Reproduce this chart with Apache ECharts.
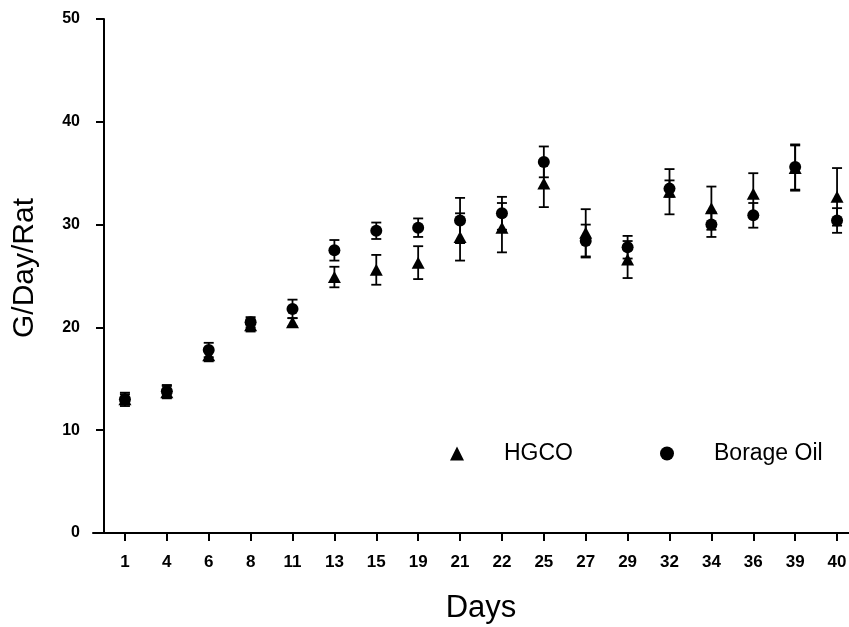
<!DOCTYPE html>
<html>
<head>
<meta charset="utf-8">
<script src="https://cdn.jsdelivr.net/npm/echarts@6/dist/echarts.min.js"></script>
<style>
html,body{margin:0;padding:0;background:#fff;}
#chart{width:849px;height:627px;}
</style>
</head>
<body>
<div id="chart"></div>
<script>
// ---- data ----
const days = ['1','4','6','8','11','13','15','19','21','22','25','27','29','32','34','36','39','40'];
const hgco =      [13.0, 13.7, 17.3, 20.2, 20.5, 24.9, 25.6, 26.3, 28.8, 29.7, 34.0, 29.2, 26.6, 33.2, 31.6, 33.0, 35.5, 32.7];
const hgcoErr =   [0.5,  0.6,  0.6,  0.6,  0.4,  1.0,  1.45, 1.6,  2.3,  2.4,  2.3,  2.3,  1.8,  2.2,  2.1,  2.0,  2.2,  2.8];
const borage =    [13.0, 13.8, 17.8, 20.5, 21.8, 27.5, 29.4, 29.7, 30.4, 31.1, 36.1, 28.4, 27.8, 33.5, 30.0, 30.9, 35.6, 30.4];
const borageErr = [0.65, 0.6,  0.7,  0.5,  0.9,  1.0,  0.8,  0.9,  2.2,  1.6,  1.5,  1.6,  1.1,  0.8,  1.2,  1.2,  2.2,  1.2];
const seriesNames = ['HGCO', 'Borage Oil'];
const yMin = 0, yMax = 50, yStep = 10;

// ---- build ----
const font = 'Liberation Sans, Arial, Helvetica, sans-serif';
function errData(mean, err) {
  return mean.map((m, i) => [i, m - err[i], m + err[i]]);
}
function errorSeries(mean, err) {
  return {
    type: 'custom',
    xAxisIndex: 0, yAxisIndex: 0,
    data: errData(mean, err),
    z: 1,
    silent: true,
    renderItem: function (params, api) {
      const x = api.value(0);
      const lo = api.coord([x, api.value(1)]);
      const hi = api.coord([x, api.value(2)]);
      const hw = 5;
      const st = {stroke: '#000', lineWidth: 1.8};
      return {
        type: 'group',
        children: [
          {type: 'line', shape: {x1: lo[0], y1: lo[1], x2: hi[0], y2: hi[1]}, style: st},
          {type: 'line', shape: {x1: lo[0] - hw, y1: lo[1], x2: lo[0] + hw, y2: lo[1]}, style: st},
          {type: 'line', shape: {x1: hi[0] - hw, y1: hi[1], x2: hi[0] + hw, y2: hi[1]}, style: st}
        ]
      };
    }
  };
}

const chart = echarts.init(document.getElementById('chart'), null, {renderer: 'canvas'});
chart.setOption({
  backgroundColor: '#fff',
  animation: false,
  grid: [
    {left: 104, top: 19, width: 754, height: 514, outerBoundsMode: 'none', containLabel: false},
    {left: 93, top: 19, width: 765, height: 514, outerBoundsMode: 'none', containLabel: false}
  ],
  legend: {
    left: 445, top: 437,
    itemWidth: 14, itemHeight: 14, itemGap: 87,
    itemStyle: {color: '#000', opacity: 1},
    textStyle: {fontFamily: font, fontSize: 23, color: '#000', padding: [0, 0, 0, 35]},
    data: [
      {name: seriesNames[0], icon: 'triangle'},
      {name: seriesNames[1], icon: 'circle'}
    ]
  },
  xAxis: [
    {
      type: 'category', gridIndex: 0, data: days, boundaryGap: true,
      name: 'Days', nameLocation: 'middle', nameGap: 60,
      nameTextStyle: {fontFamily: font, fontSize: 31, color: '#000'},
      axisLine: {show: false},
      axisTick: {show: true, alignWithLabel: true, length: 8, lineStyle: {color: '#000', width: 2}},
      axisLabel: {fontFamily: font, fontSize: 17, fontWeight: 'bold', color: '#000', margin: 21},
      splitLine: {show: false}
    },
    {
      type: 'value', gridIndex: 1, min: 0, max: 1,
      axisLine: {show: true, onZero: false, lineStyle: {color: '#000', width: 2}},
      axisTick: {show: false}, axisLabel: {show: false}, splitLine: {show: false}
    }
  ],
  yAxis: [
    {
      type: 'value', gridIndex: 0, min: yMin, max: yMax, interval: yStep,
      name: 'G/Day/Rat', nameLocation: 'middle', nameGap: 64,
      nameTextStyle: {fontFamily: font, fontSize: 30, color: '#000', padding: [0, 0, 0, 16]},
      axisLine: {show: true, lineStyle: {color: '#000', width: 2}},
      axisTick: {show: true, length: 8, lineStyle: {color: '#000', width: 2}},
      axisLabel: {fontFamily: font, fontSize: 16, fontWeight: 'bold', color: '#000', margin: 24},
      splitLine: {show: false}
    },
    {
      type: 'value', gridIndex: 1, min: 0, max: 1, show: false
    }
  ],
  series: [
    errorSeries(hgco, hgcoErr),
    errorSeries(borage, borageErr),
    {
      name: seriesNames[0], type: 'scatter', xAxisIndex: 0, yAxisIndex: 0,
      data: hgco, symbol: 'triangle', symbolSize: [13, 12],
      itemStyle: {color: '#000', opacity: 1}, z: 2
    },
    {
      name: seriesNames[1], type: 'scatter', xAxisIndex: 0, yAxisIndex: 0,
      data: borage, symbol: 'circle', symbolSize: 12,
      itemStyle: {color: '#000', opacity: 1}, z: 3
    }
  ]
});
</script>
</body>
</html>
